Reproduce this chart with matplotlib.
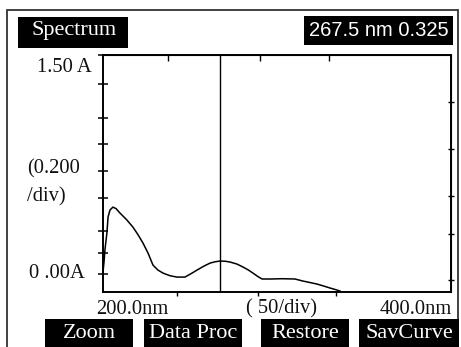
import matplotlib
matplotlib.use("Agg")
import matplotlib.pyplot as plt
from matplotlib.patches import Rectangle

# spectrum trace (wavelength nm, absorbance A)
wavelength = [200.0, 200.6, 201.1, 202.3, 202.9, 204.0, 205.7, 207.5, 209.8, 213.5,
              217.2, 220.0, 223.0, 226.0, 228.7, 231.5, 234.5, 238.5, 242.5, 247.1,
              250.5, 254.0, 258.0, 261.5, 264.5, 267.2, 270.0, 273.0, 277.0, 280.5,
              283.5, 286.2, 289.0, 291.4, 296.6, 303.0, 310.3, 314.9, 319.0, 323.0,
              327.0, 330.5, 333.5, 336.2]
absorb = [0.015, 0.090, 0.175, 0.307, 0.416, 0.467, 0.489, 0.478, 0.445, 0.398,
          0.343, 0.290, 0.226, 0.150, 0.066, 0.030, 0.007, -0.012, -0.022, -0.022,
          0.002, 0.029, 0.058, 0.080, 0.090, 0.095, 0.094, 0.088, 0.073, 0.051,
          0.030, 0.007, -0.018, -0.036, -0.036, -0.034, -0.036, -0.051, -0.062, -0.073,
          -0.088, -0.102, -0.113, -0.124]

cursor_nm = 267.5
cursor_val = 0.325
x_range = (200.0, 400.0)
y_range = (-0.131, 1.60)
left_ticks = [0.0, 0.153, 0.314, 0.555, 0.752, 0.949, 1.139, 1.387, 1.60]
right_ticks = [1.255, 0.912, 0.569, 0.292, -0.044]
bottom_ticks = [242.5, 289.1, 333.9]
top_ticks = [237.4, 290.2, 329.9]
buttons = ["Zoom", "Data Proc", "Restore", "SavCurve"]

W, H = 461, 347
fig = plt.figure(figsize=(W / 100, H / 100), dpi=100)
fig.patch.set_facecolor("white")

serif = ["Liberation Serif", "DejaVu Serif"]
sans = ["Liberation Sans", "DejaVu Sans"]


def box(x0, y0, x1, y1, **kw):
    # rectangle in pixel coords, y measured from the top
    fig.add_artist(Rectangle((x0 / W, 1 - y1 / H), (x1 - x0) / W, (y1 - y0) / H,
                             transform=fig.transFigure, **kw))


def txt(x, y, s, **kw):
    fig.text(x / W, 1 - y / H, s, **kw)


# outer frame
box(7, 10, 458, 352, fill=False, edgecolor="#333333", linewidth=1.3)

# main plot
ax = fig.add_axes([103 / W, (H - 292) / H, 348 / W, 237 / H])
ax.plot(wavelength, absorb, color="black", linewidth=1.1)
ax.axvline(cursor_nm, color="black", linewidth=1.0)
ax.set_xlim(*x_range)
ax.set_ylim(*y_range)
for s in ax.spines.values():
    s.set_linewidth(1.4)
ax.set_yticks(left_ticks)
ax.set_yticklabels([])
ax.tick_params(axis="y", direction="inout", length=7, width=1.1, left=True, right=False)
ax.set_xticks(bottom_ticks)
ax.set_xticklabels([])
ax.tick_params(axis="x", direction="out", length=3, width=1.0)

axr = ax.secondary_yaxis("right")
axr.set_yticks(right_ticks)
axr.set_yticklabels([])
axr.tick_params(direction="inout", length=5, width=1.0)

axt = ax.secondary_xaxis("top")
axt.set_xticks(top_ticks)
axt.set_xticklabels([])
axt.tick_params(direction="in", length=4, width=1.0)

# header boxes
box(18, 17, 128, 48, facecolor="black", edgecolor="none")
txt(74, 31, "Spectrum", color="white", family=serif, fontsize=16, ha="center", va="center")
box(304, 16, 453, 45, facecolor="black", edgecolor="none")
txt(379, 31, f"{cursor_nm} nm {cursor_val}", color="white", family=sans, fontsize=14.5,
    ha="center", va="center")

# axis annotations
lab = dict(color="#111111", family=serif, fontsize=14.8, va="center")
txt(37, 68, "1.50 A", ha="left", **lab)
txt(27, 169, "(0.200", ha="left", **lab)
txt(27, 197, "/div)", ha="left", **lab)
txt(29, 274, "0 .00A", ha="left", **lab)
txt(96, 309, "200.0nm", ha="left", **lab)
txt(246, 309, "( 50/div)", ha="left", **lab)
txt(452, 309, "400.0nm", ha="right", **lab)

# buttons along the bottom
spans = [(45, 133), (144, 242), (261, 349), (359, 459)]
for name, (x0, x1) in zip(buttons, spans):
    box(x0, 319, x1, 347, facecolor="black", edgecolor="none")
    txt((x0 + x1) / 2, 333, name, color="white", family=serif, fontsize=16,
        ha="center", va="center")

fig.savefig("out.png", dpi=100)
